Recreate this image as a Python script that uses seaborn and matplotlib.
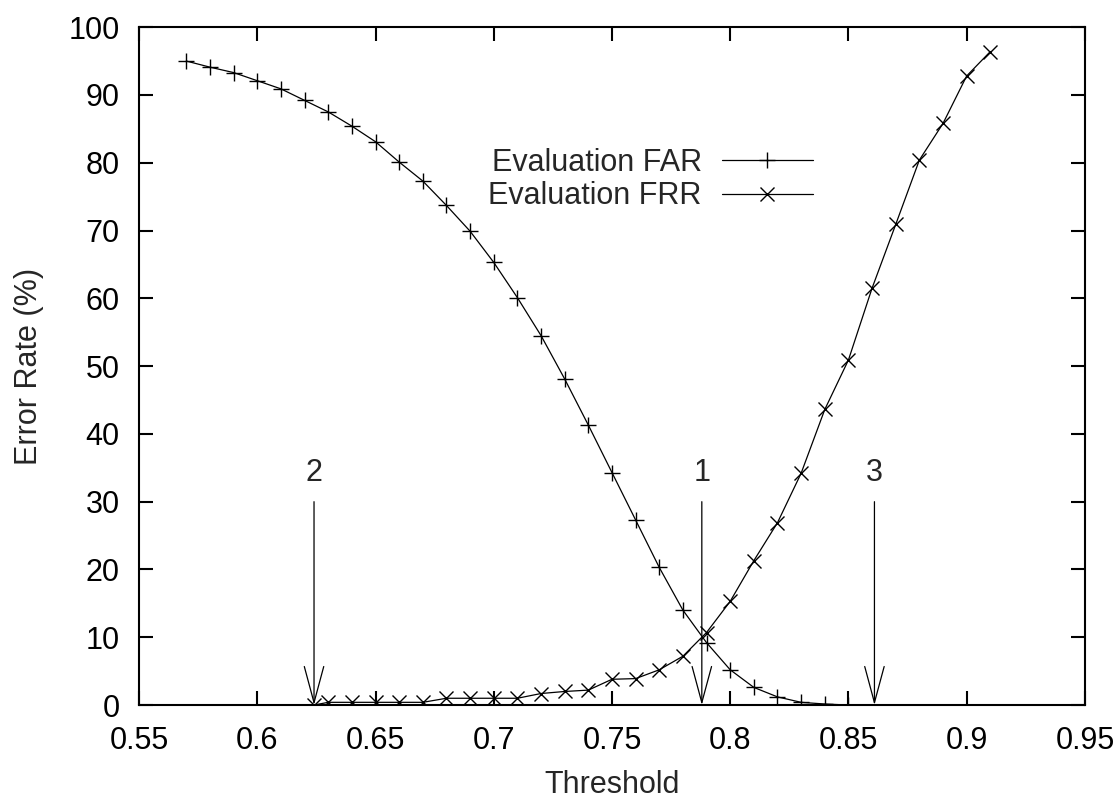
import numpy as np
import pandas as pd
import matplotlib
matplotlib.use("Agg")
import matplotlib.pyplot as plt
import seaborn as sns

far_thr = [0.57, 0.58, 0.59, 0.60, 0.61, 0.62, 0.63, 0.64, 0.65, 0.66, 0.67, 0.68, 0.69, 0.70,
           0.71, 0.72, 0.73, 0.74, 0.75, 0.76, 0.77, 0.78, 0.79, 0.80, 0.81, 0.82, 0.83, 0.84, 0.85]
far_val = [95.0, 94.1, 93.3, 92.1, 90.9, 89.2, 87.5, 85.4, 83.1, 80.1, 77.3, 73.7, 69.9, 65.3,
           60.1, 54.5, 48.1, 41.3, 34.3, 27.3, 20.3, 14.0, 9.2, 5.2, 2.6, 1.2, 0.4, 0.15, 0.0]

frr_thr = [0.624, 0.63, 0.64, 0.65, 0.66, 0.67, 0.68, 0.69, 0.70, 0.71, 0.72, 0.73, 0.74, 0.75,
           0.76, 0.77, 0.78, 0.79, 0.80, 0.81, 0.82, 0.83, 0.84, 0.85, 0.86, 0.87, 0.88, 0.89,
           0.90, 0.91]
frr_val = [0.0, 0.4, 0.4, 0.4, 0.4, 0.4, 1.0, 1.0, 1.0, 1.0, 1.7, 2.0, 2.2, 3.8,
           3.9, 5.2, 7.2, 10.7, 15.3, 21.3, 26.9, 34.2, 43.6, 50.9, 61.5, 70.9, 80.4, 85.8,
           92.8, 96.4]

arrow_labels = ["1", "2", "3"]
arrow_x = [0.788, 0.624, 0.861]
arrow_top = 30

x_ticks = [0.55, 0.6, 0.65, 0.7, 0.75, 0.8, 0.85, 0.9, 0.95]
x_tick_labels = ["0.55", "0.6", "0.65", "0.7", "0.75", "0.8", "0.85", "0.9", "0.95"]
y_ticks = [0, 10, 20, 30, 40, 50, 60, 70, 80, 90, 100]

FS = 22

sns.set_style("ticks")
plt.rcParams["font.family"] = ["Liberation Sans", "DejaVu Sans"]
plt.rcParams["font.size"] = FS

fig = plt.figure(figsize=(11.15, 7.99), dpi=100)
ax = fig.add_axes([0.1247, 0.1176, 0.973 - 0.1247, 0.966 - 0.1176])

sns.lineplot(x=far_thr, y=far_val, ax=ax, color="black", lw=0.9, marker="+",
             markersize=12, markeredgecolor="black", markeredgewidth=1.0,
             label="Evaluation FAR")
sns.lineplot(x=frr_thr, y=frr_val, ax=ax, color="black", lw=0.9, marker="x",
             markersize=10, markeredgecolor="black", markeredgewidth=1.0,
             label="Evaluation FRR")

for lab, xv in zip(arrow_labels, arrow_x):
    ax.annotate("", xy=(xv, 0), xytext=(xv, arrow_top),
                arrowprops=dict(arrowstyle="->,head_length=1.3,head_width=0.35",
                                color="black", lw=0.9, mutation_scale=20,
                                shrinkA=0, shrinkB=0))
    ax.text(xv, 32.0, lab, ha="center", va="bottom", fontsize=FS)

ax.set_xlim(0.55, 0.95)
ax.set_ylim(0, 100)
ax.set_xticks(x_ticks)
ax.set_xticklabels(x_tick_labels)
ax.set_yticks(y_ticks)
ax.set_xlabel("Threshold", fontsize=FS)
ax.set_ylabel("Error Rate (%)", fontsize=FS)
ax.xaxis.set_label_coords(0.5, -0.096)
ax.yaxis.set_label_coords(-0.101, 0.5)

ax.tick_params(direction="in", length=10, width=1.5, top=True, right=True,
               labelsize=FS, colors="black")
ax.tick_params(axis="x", pad=15)
ax.tick_params(axis="y", pad=14)
for s in ax.spines.values():
    s.set_visible(True)
    s.set_linewidth(1.5)
    s.set_color("black")

leg = ax.legend(loc="center", bbox_to_anchor=(0.541, 0.775), frameon=False,
                markerfirst=False, handlelength=3.0, handletextpad=0.65,
                labelspacing=0.1, fontsize=FS)

fig.savefig("out.png", dpi=100)
